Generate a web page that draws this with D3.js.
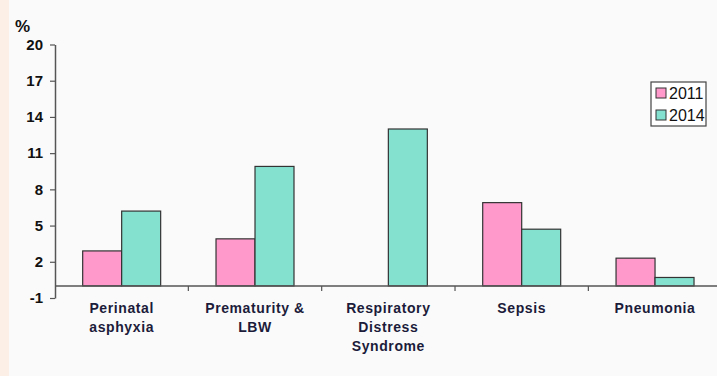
<!DOCTYPE html>
<html>
<head>
<meta charset="utf-8">
<script src="https://cdn.jsdelivr.net/npm/d3@7"></script>
<style>
  html, body { margin: 0; padding: 0; background: #fafafa; }
  svg { display: block; font-family: "Liberation Sans", Arial, sans-serif; }
</style>
</head>
<body>
<div id="chart"></div>
<script>
// data
const categories = [
  ["Perinatal", "asphyxia"],
  ["Prematurity &", "LBW"],
  ["Respiratory", "Distress", "Syndrome"],
  ["Sepsis"],
  ["Pneumonia"]
];
const years = ["2011", "2014"];
const values2011 = [2.9, 3.9, 0, 6.9, 2.3];
const values2014 = [6.2, 9.9, 13.0, 4.7, 0.7];
const yTicks = [-1, 2, 5, 8, 11, 14, 17, 20];

const width = 717, height = 376;
const colors = {"2011": "#ff99cc", "2014": "#84e1d0"};

const svg = d3.select("#chart")
    .append("svg")
    .attr("width", width)
    .attr("height", height);

// beige strip on the left edge
svg.append("rect")
    .attr("x", 0).attr("y", 0)
    .attr("width", 9).attr("height", height)
    .attr("fill", "#fcefe5");

const keys = categories.map((c, i) => i);

const x = d3.scaleBand()
    .domain(keys)
    .range([55, 721.7])
    .padding(0);

const xi = d3.scaleBand()
    .domain(years)
    .range([0, x.bandwidth()])
    .paddingInner(0)
    .paddingOuter(0.71);

const y = d3.scaleLinear()
    .domain([-1, 20])
    .range([298, 44.5]);

const rows = keys.map(i => ({i, "2011": values2011[i], "2014": values2014[i]}));

// bars
const groups = svg.selectAll("g.cat")
    .data(rows)
    .join("g")
    .attr("class", "cat")
    .attr("transform", d => `translate(${x(d.i)},0)`);

groups.selectAll("rect")
    .data(d => years.map(k => ({k, v: d[k]})).filter(e => e.v > 0))
    .join("rect")
    .attr("x", e => xi(e.k))
    .attr("width", xi.bandwidth())
    .attr("y", e => y(e.v))
    .attr("height", e => y(0) - y(e.v))
    .attr("fill", e => colors[e.k])
    .attr("stroke", "#333")
    .attr("stroke-width", 1.2);

// x axis along zero
const xAxis = svg.append("g")
    .attr("transform", `translate(0,${y(0)})`);
xAxis.append("line")
    .attr("x1", 55).attr("x2", width)
    .attr("stroke", "#555").attr("stroke-width", 1.5);
xAxis.selectAll("line.tick")
    .data(keys.slice(1))
    .join("line")
    .attr("class", "tick")
    .attr("x1", d => x(d)).attr("x2", d => x(d))
    .attr("y1", 0).attr("y2", 5)
    .attr("stroke", "#555").attr("stroke-width", 1.2);

// category labels
svg.selectAll("text.cat")
    .data(rows)
    .join("text")
    .attr("class", "cat")
    .attr("text-anchor", "middle")
    .attr("font-size", 14)
    .attr("font-weight", "bold")
    .attr("letter-spacing", 0.6)
    .attr("fill", "#1c1c3a")
    .selectAll("tspan")
    .data(d => categories[d.i].map(t => ({t, cx: x(d.i) + x.bandwidth() / 2})))
    .join("tspan")
    .attr("x", d => d.cx)
    .attr("y", (d, j) => 312.5 + j * 19)
    .text(d => d.t);

// y axis
const yAxis = svg.append("g")
    .attr("transform", "translate(55,0)")
    .call(d3.axisLeft(y).tickValues(yTicks).tickSize(5).tickPadding(7).tickSizeOuter(0)
        .tickFormat(d => String(d)));
yAxis.select(".domain").attr("stroke", "#555").attr("stroke-width", 1.5);
yAxis.selectAll(".tick line").attr("stroke", "#555").attr("stroke-width", 1.2);
yAxis.selectAll(".tick text")
    .attr("font-size", 15)
    .attr("font-weight", "bold")
    .attr("fill", "#111")
    .attr("font-family", "Liberation Sans, Arial, sans-serif");

svg.append("text")
    .attr("x", 15).attr("y", 32)
    .attr("font-size", 17)
    .attr("font-weight", "bold")
    .attr("fill", "#111")
    .text("%");

// legend
const legend = svg.append("g").attr("transform", "translate(651,82)");
legend.append("rect")
    .attr("width", 55).attr("height", 44)
    .attr("fill", "#fff")
    .attr("stroke", "#444").attr("stroke-width", 1.2);
const items = legend.selectAll("g.item")
    .data(years)
    .join("g")
    .attr("class", "item")
    .attr("transform", (d, i) => `translate(5,${11 + i * 22})`);
items.append("rect")
    .attr("x", 0).attr("y", -5)
    .attr("width", 10).attr("height", 10)
    .attr("fill", d => colors[d])
    .attr("stroke", "#333");
items.append("text")
    .attr("x", 13).attr("y", 6)
    .attr("font-size", 16)
    .attr("fill", "#111")
    .text(d => d);
</script>
</body>
</html>
